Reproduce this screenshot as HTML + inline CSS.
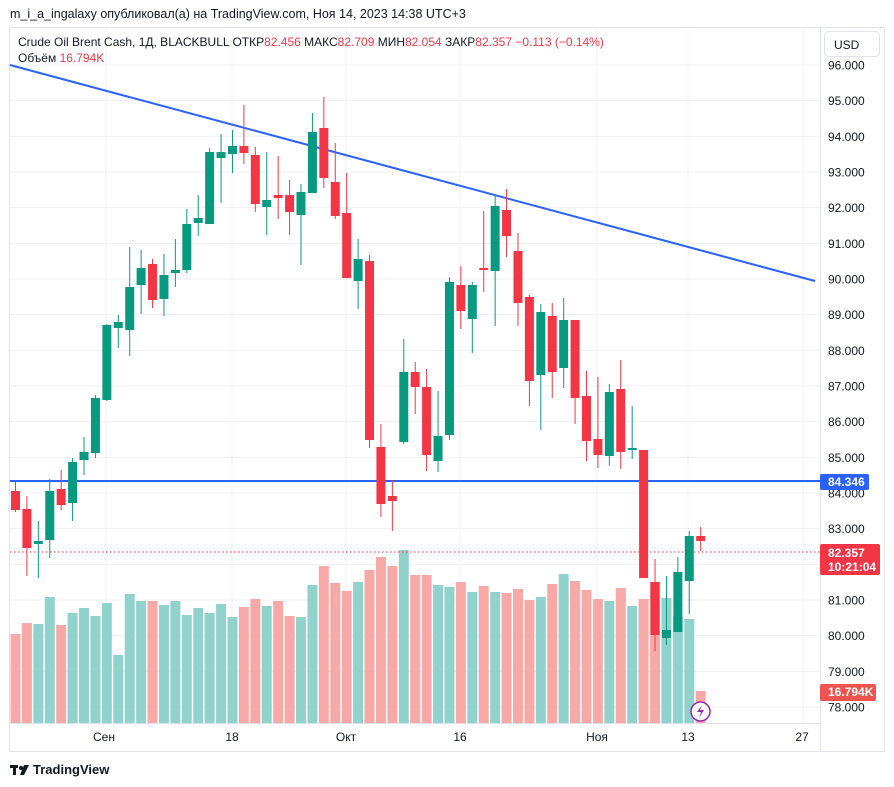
<!DOCTYPE html>
<html><head><meta charset="utf-8">
<style>
html,body{margin:0;padding:0;background:#fff;}
body{width:894px;height:787px;overflow:hidden;position:relative;font-family:"Liberation Sans","DejaVu Sans",sans-serif;}
svg{position:absolute;left:0;top:0;}
</style></head><body>
<svg id="s" width="894" height="787" xmlns="http://www.w3.org/2000/svg" font-family="Liberation Sans, DejaVu Sans, sans-serif">
<text x="10" y="18" font-size="12.5" fill="#131722">m_i_a_ingalaxy опубликовал(а) на TradingView.com, Ноя 14, 2023 14:38 UTC+3</text>
<rect x="9.5" y="27.5" width="875" height="724" fill="#fff" stroke="#e0e3eb"/>
<g id="grid" stroke="#f0f1f4" stroke-width="1"></g>
<g id="vol"></g>
<line x1="10" y1="65" x2="815" y2="281" stroke="#2962ff" stroke-width="2"/>
<line x1="10" y1="481" x2="820" y2="481" stroke="#2962ff" stroke-width="2"/>
<line x1="10" y1="552" x2="820" y2="552" stroke="#f23645" stroke-width="1" stroke-dasharray="1.5,2.5"/>
<g id="cdl"></g>
<g id="axis" font-size="12" fill="#131722"></g>
<line x1="10" y1="723.5" x2="820" y2="723.5" stroke="#e0e3eb"/>
<line x1="820.5" y1="28" x2="820.5" y2="751" stroke="#e0e3eb"/>
<text x="18" y="46" font-size="12" fill="#131722">Crude Oil Brent Cash, 1Д, BLACKBULL  ОТКР<tspan fill="#f23645">82.456</tspan>  МАКС<tspan fill="#f23645">82.709</tspan>  МИН<tspan fill="#f23645">82.054</tspan>  ЗАКР<tspan fill="#f23645">82.357</tspan>  <tspan fill="#f23645">−0.113 (−0.14%)</tspan></text>
<text x="18" y="62" font-size="12" fill="#131722">Объём  <tspan fill="#f23645">16.794K</tspan></text>
<rect x="824.5" y="31.5" width="55" height="25" rx="4" fill="#fff" stroke="#e0e3eb"/>
<text x="834" y="49" font-size="12" fill="#131722">USD</text>
<rect x="820" y="474" width="49" height="16" rx="2" fill="#2962ff"/>
<text x="828" y="486" font-size="12" font-weight="bold" fill="#fff">84.346</text>
<rect x="820" y="544" width="60" height="31" rx="2" fill="#f23645"/>
<text x="828" y="557" font-size="12" font-weight="bold" fill="#fff">82.357</text>
<text x="828" y="571" font-size="12" font-weight="bold" fill="#fff">10:21:04</text>
<rect x="820" y="684" width="56" height="17" rx="2" fill="#ef5350"/>
<text x="828" y="696" font-size="12" font-weight="bold" fill="#fff">16.794K</text>
<circle cx="700.5" cy="711.5" r="9.5" fill="#fff" stroke="#9c27b0" stroke-width="1.5"/>
<path d="M702 705 L697 712 L701 712 L699 718 L704 710 L700 710 Z" fill="#9c27b0"/>
<g transform="translate(10,763)"><rect x="0" y="2" width="8" height="3" fill="#131722"/><rect x="3" y="2" width="3" height="10" fill="#131722"/><circle cx="11" cy="5" r="2" fill="#131722"/><path d="M14 2 L19 2 L14 12 L10 12 Z" fill="#131722"/></g>
<text x="33" y="774" font-size="13" font-weight="bold" fill="#131722">TradingView</text>
</svg>
<script>
const NS="http://www.w3.org/2000/svg";
function el(p,t,a,txt){const e=document.createElementNS(NS,t);for(const k in a)e.setAttribute(k,a[k]);if(txt!==undefined)e.textContent=txt;document.getElementById(p).appendChild(e);return e;}
// grid + price labels
for(let i=0;i<=18;i++){const y=65+i*35.667;const p=(96-i).toFixed(3);
 el("grid","line",{x1:10,y1:y,x2:820,y2:y});
 el("axis","text",{x:828,y:y+4.5},p);}
[106,232,346,460,597,688,803].forEach(x=>el("grid","line",{x1:x,y1:28,x2:x,y2:723}));
[["Сен",104],["18",232],["Окт",346],["16",460],["Ноя",597],["13",688],["27",802]].forEach(d=>el("axis","text",{x:d[1],y:741,"text-anchor":"middle"},d[0]));
// candles: [color, bodyTop, bodyBot, wickTop, wickBot]
const C=[["r",491,510,480,512],["r",509,548,496,576],["g",541,544,521,578],["g",491,540,479,558],["r",489,505,470,510],["g",462,503,458,521],["g",452,460,437,475],["g",398,453,395,458],["g",325,400,324,401],["g",322,328,315,348],
["g",287,330,247,356],["g",268,285,250,314],["r",264,300,259,308],["g",275,299,254,316],["g",270,273,239,287],["g",224,270,209,273],["g",218,223,195,236],["g",152,224,148,224],["g",152,158,134,203],["g",146,154,130,173],
["r",146,153,105,164],["r",155,204,147,212],["g",200,207,152,235],["r",195,198,156,219],["r",195,212,180,235],["g",192,215,184,265],["g",132,193,113,193],["r",128,178,97,188],["r",182,216,143,219],["r",213,278,173,278],
["g",259,281,239,309],["r",261,440,255,448],["r",447,504,424,517],["r",496,501,480,531],["g",372,442,339,444],["r",372,387,362,414],["r",387,455,369,471],["g",436,461,391,472],["g",282,435,277,440],["r",285,311,266,329],
["g",285,319,282,353],["r",268,270,211,292],["g",206,271,195,326],["r",210,236,189,257],["r",251,303,233,326],["r",297,381,295,406],["g",312,375,304,430],["r",316,372,303,398],["g",320,368,298,388],["r",320,398,320,424],
["r",396,441,371,461],["r",439,455,377,468],["g",392,456,384,466],["r",389,452,360,469],["g",448,450,406,459],["r",450,578,450,578],["r",582,635,559,651],["g",630,638,576,645],["g",572,632,557,632],["g",536,581,531,614],["r",536,541,527,551]];
const V=[634,623,624,597,625,613,608,616,603,655,594,601,601,605,601,615,608,613,604,617,607,599,606,601,616,617,585,566,583,591,582,570,557,566,550,575,575,585,587,582,592,586,592,593,589,600,597,584,574,581,590,599,601,588,606,599,582,598,617,619,691];
C.forEach((c,i)=>{const x=15.5+i*11.42;const col=c[0]=="r"?"#f23645":"#089981";const vc=c[0]=="r"?"#f7a9a7":"#92d2cc";
 el("vol","rect",{x:x-5,y:V[i],width:10,height:723-V[i],fill:vc});
 el("cdl","line",{x1:x,y1:c[3],x2:x,y2:c[4],stroke:col,"stroke-width":1});
 el("cdl","rect",{x:x-4.5,y:c[1],width:9,height:Math.max(2,c[2]-c[1]),fill:col});});
</script>
</body></html>
